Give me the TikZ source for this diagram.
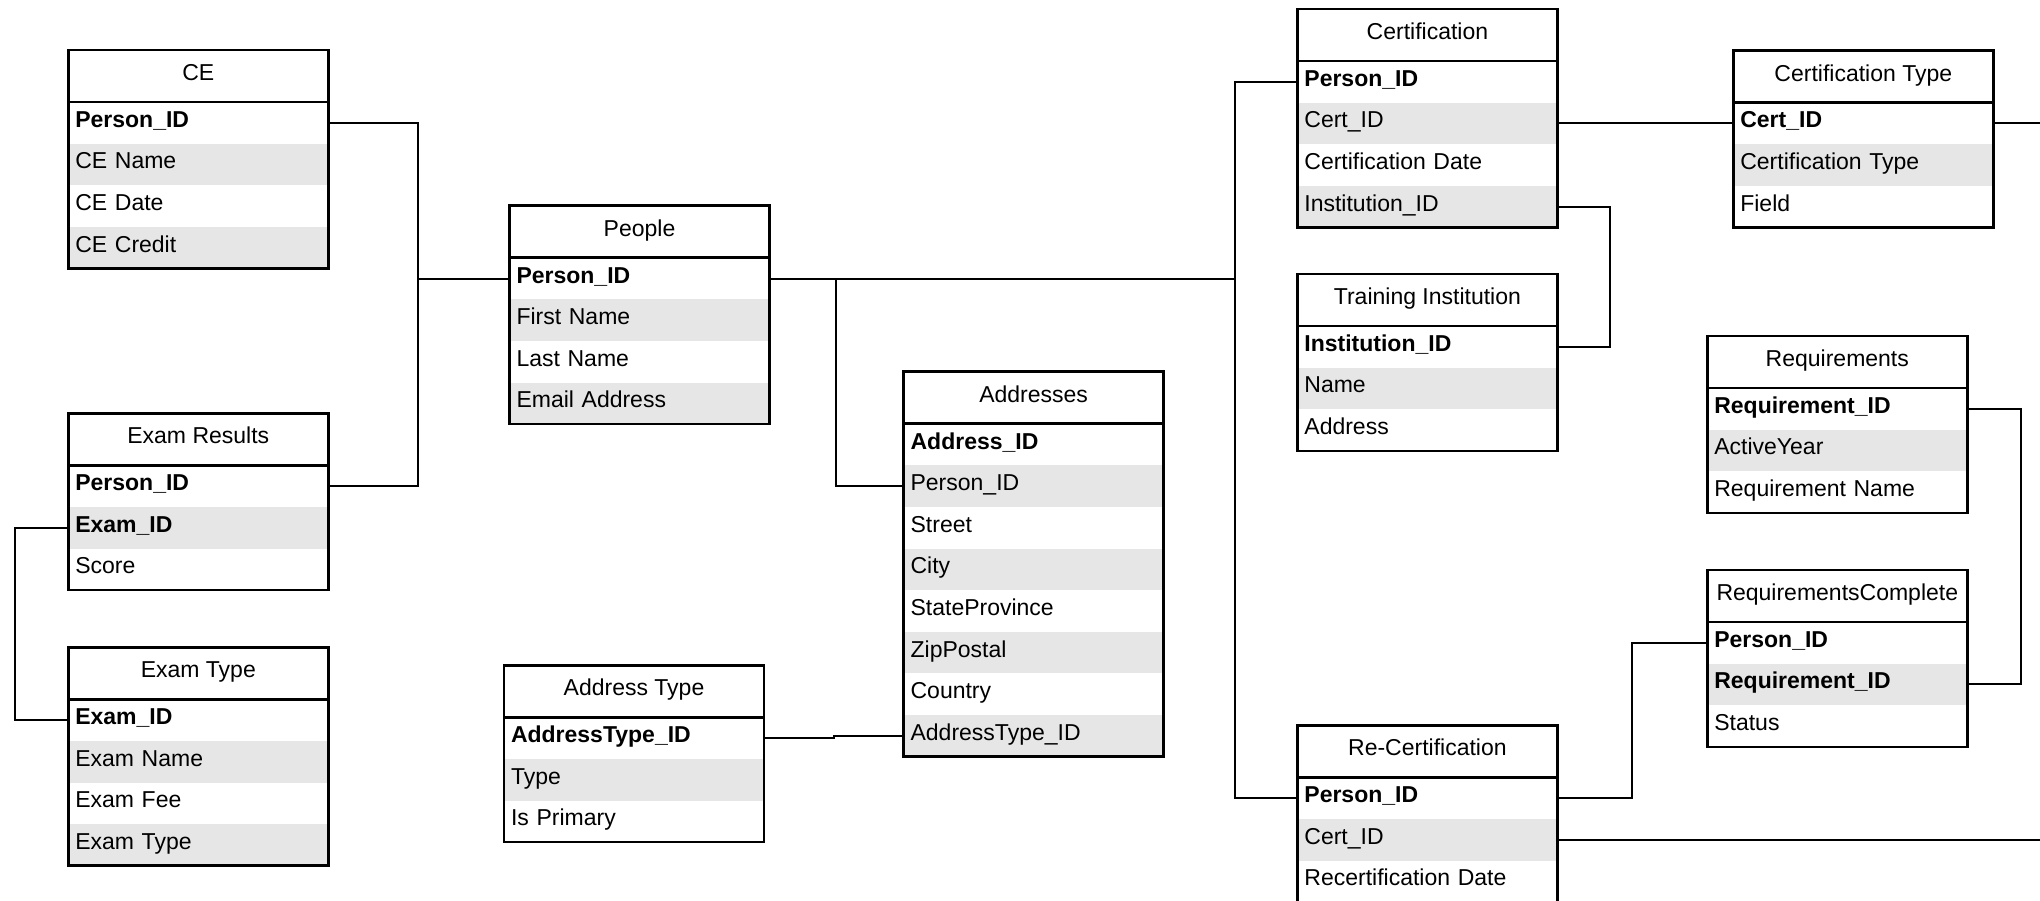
\documentclass[tikz,border=0pt]{standalone}
\usepackage{fontspec}
\setmainfont{Liberation Sans}
\definecolor{rowgray}{HTML}{E6E6E6}
\newcommand\erfont{\fontsize{23}{27}\selectfont}
\newcommand\ertbl[4]{\node[hdr] (#1-0) at (#2,#3) {#4};}
\newcommand\errow[4]{\node[#3] (#1) at (#2.south west) {#4};}
\newcommand\erbox[2]{\draw[border] (#1-0.north west) rectangle (#1-#2.south east);
  \draw[border] (#1-0.south west) -- (#1-0.south east);}
\begin{document}
\begin{tikzpicture}[x=1pt,y=-1pt,
  cell/.style={anchor=north west, minimum height=41.6pt, text width=246pt, inner xsep=7pt, inner ysep=0pt,
    align=left, text height=16.5pt, text depth=7.5pt, outer sep=0pt, font=\erfont},
  wr/.style={cell},
  gr/.style={cell, fill=rowgray},
  hdr/.style={anchor=north west, minimum width=260pt, minimum height=52pt, inner sep=0pt,
    text height=16.5pt, text depth=7.5pt, outer sep=0pt, font=\erfont},
  border/.style={draw=black, line width=2.6pt},
  link/.style={draw=black, line width=2pt}]
\useasboundingbox (0,0) rectangle (2040,900);
\clip (0,0) rectangle (2040,900);
\fill[white] (0,0) rectangle (2040,900);

% CE
\ertbl{ce}{68.3}{50}{CE}
\errow{ce-1}{ce-0}{wr}{\textbf{Person\_ID}}
\errow{ce-2}{ce-1}{gr}{CE Name}
\errow{ce-3}{ce-2}{wr}{CE Date}
\errow{ce-4}{ce-3}{gr}{CE Credit}
\erbox{ce}{4}

% People
\ertbl{p}{509.5}{205.7}{People}
\errow{p-1}{p-0}{wr}{\textbf{Person\_ID}}
\errow{p-2}{p-1}{gr}{First Name}
\errow{p-3}{p-2}{wr}{Last Name}
\errow{p-4}{p-3}{gr}{Email Address}
\erbox{p}{4}

% Exam Results
\ertbl{er}{68.3}{413.3}{Exam Results}
\errow{er-1}{er-0}{wr}{\textbf{Person\_ID}}
\errow{er-2}{er-1}{gr}{\textbf{Exam\_ID}}
\errow{er-3}{er-2}{wr}{Score}
\erbox{er}{3}

% Exam Type
\ertbl{et}{68.3}{647.3}{Exam Type}
\errow{et-1}{et-0}{wr}{\textbf{Exam\_ID}}
\errow{et-2}{et-1}{gr}{Exam Name}
\errow{et-3}{et-2}{wr}{Exam Fee}
\errow{et-4}{et-3}{gr}{Exam Type}
\erbox{et}{4}

% Address Type
\ertbl{at}{504}{665.3}{Address Type}
\errow{at-1}{at-0}{wr}{\textbf{AddressType\_ID}}
\errow{at-2}{at-1}{gr}{Type}
\errow{at-3}{at-2}{wr}{Is Primary}
\erbox{at}{3}

% Addresses
\ertbl{ad}{903.6}{371.7}{Addresses}
\errow{ad-1}{ad-0}{wr}{\textbf{Address\_ID}}
\errow{ad-2}{ad-1}{gr}{Person\_ID}
\errow{ad-3}{ad-2}{wr}{Street}
\errow{ad-4}{ad-3}{gr}{City}
\errow{ad-5}{ad-4}{wr}{StateProvince}
\errow{ad-6}{ad-5}{gr}{ZipPostal}
\errow{ad-7}{ad-6}{wr}{Country}
\errow{ad-8}{ad-7}{gr}{AddressType\_ID}
\erbox{ad}{8}

% Certification
\ertbl{cert}{1297.4}{9}{Certification}
\errow{cert-1}{cert-0}{wr}{\textbf{Person\_ID}}
\errow{cert-2}{cert-1}{gr}{Cert\_ID}
\errow{cert-3}{cert-2}{wr}{Certification Date}
\errow{cert-4}{cert-3}{gr}{Institution\_ID}
\erbox{cert}{4}

% Training Institution
\ertbl{ti}{1297.4}{274}{Training Institution}
\errow{ti-1}{ti-0}{wr}{\textbf{Institution\_ID}}
\errow{ti-2}{ti-1}{gr}{Name}
\errow{ti-3}{ti-2}{wr}{Address}
\erbox{ti}{3}

% Re-Certification
\ertbl{rc}{1297.4}{725.3}{Re-Certification}
\errow{rc-1}{rc-0}{wr}{\textbf{Person\_ID}}
\errow{rc-2}{rc-1}{gr}{Cert\_ID}
\errow{rc-3}{rc-2}{wr}{Recertification Date}
\erbox{rc}{3}

% Certification Type
\ertbl{ct}{1733.3}{50.6}{Certification Type}
\errow{ct-1}{ct-0}{wr}{\textbf{Cert\_ID}}
\errow{ct-2}{ct-1}{gr}{Certification Type}
\errow{ct-3}{ct-2}{wr}{Field}
\erbox{ct}{3}

% Requirements
\ertbl{req}{1707.3}{336}{Requirements}
\errow{req-1}{req-0}{wr}{\textbf{Requirement\_ID}}
\errow{req-2}{req-1}{gr}{ActiveYear}
\errow{req-3}{req-2}{wr}{Requirement Name}
\erbox{req}{3}

% RequirementsComplete
\ertbl{rcomp}{1707.3}{570}{RequirementsComplete}
\errow{rcomp-1}{rcomp-0}{wr}{\textbf{Person\_ID}}
\errow{rcomp-2}{rcomp-1}{gr}{\textbf{Requirement\_ID}}
\errow{rcomp-3}{rcomp-2}{wr}{Status}
\erbox{rcomp}{3}

% connectors
\coordinate (c1) at (418.4,0);
\coordinate (c2) at (836.2,0);
\coordinate (c3) at (1235.2,0);
\coordinate (c4) at (15.2,0);
\coordinate (c5) at (833.6,0);
\coordinate (c6) at (1610,0);
\coordinate (c7) at (1631.7,0);
\coordinate (c8) at (2020.7,0);
\coordinate (edge) at (2060,0);

\draw[link] (ce-1.east) -| (c1 |- er-1.east) -- (er-1.east);
\draw[link] (p-1.west) -- (p-1.west -| c1);
\draw[link] (p-1.east) -- (p-1.east -| c3);
\draw[link] (p-1.east -| c2) |- (ad-2.west);
\draw[link] (cert-1.west) -| (c3 |- rc-1.west) -- (rc-1.west);
\draw[link] (er-2.west) -| (c4 |- et-1.west) -- (et-1.west);
\draw[link] (at-1.east) -| (c5 |- ad-8.west) -- (ad-8.west);
\draw[link] (cert-2.east) -- (ct-1.west);
\draw[link] (ct-1.east) -- (ct-1.east -| edge);
\draw[link] (cert-4.east) -| (c6 |- ti-1.east) -- (ti-1.east);
\draw[link] (rc-1.east) -| (c7 |- rcomp-1.west) -- (rcomp-1.west);
\draw[link] (rc-2.east) -- (rc-2.east -| edge);
\draw[link] (req-1.east) -| (c8 |- rcomp-2.east) -- (rcomp-2.east);
\end{tikzpicture}
\end{document}
